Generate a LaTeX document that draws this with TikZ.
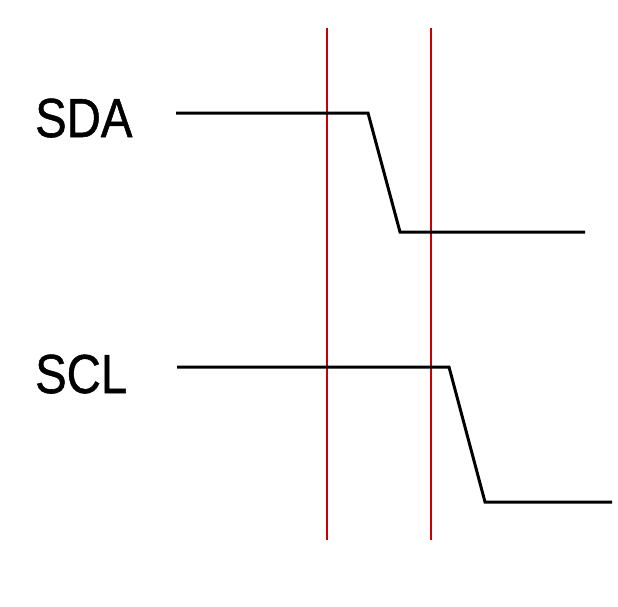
\documentclass[tikz,border=0pt]{standalone}
\usepackage{fontspec}
\setmainfont{Liberation Sans}
\newfontfamily\labelfont{Liberation Sans}[FakeBold=1]
\definecolor{markred}{RGB}{200,0,0}
\begin{document}
\begin{tikzpicture}[x=1pt,y=-1pt,
  wave/.style={line width=3pt, line join=miter, black},
  marker/.style={line width=1.1pt, color=markred},
  siglabel/.style={inner sep=0pt, anchor=base west, font=\labelfont\fontsize{55}{60}\selectfont, xscale=0.86}]
\useasboundingbox (0,0) rectangle (618,606);
% markers
\coordinate (m1t) at (327,28);
\coordinate (m1b) at (327,540);
\coordinate (m2t) at (431,28);
\coordinate (m2b) at (431,540);
\draw[marker] (m1t) -- (m1b);
\draw[marker] (m2t) -- (m2b);
% labels
\node[siglabel] (sda) at (35,137) {SDA};
\node[siglabel] (scl) at (35,393) {SCL};
% SDA waveform
\coordinate (a0) at (176,113);
\coordinate (a1) at (368,113);
\coordinate (a2) at (400,232);
\coordinate (a3) at (585,232);
\draw[wave] (a0) -- (a1) -- (a2) -- (a3);
% SCL waveform
\coordinate (c0) at (177,367);
\coordinate (c1) at (449,367);
\coordinate (c2) at (485,502);
\coordinate (c3) at (612,502);
\draw[wave] (c0) -- (c1) -- (c2) -- (c3);
\end{tikzpicture}
\end{document}
